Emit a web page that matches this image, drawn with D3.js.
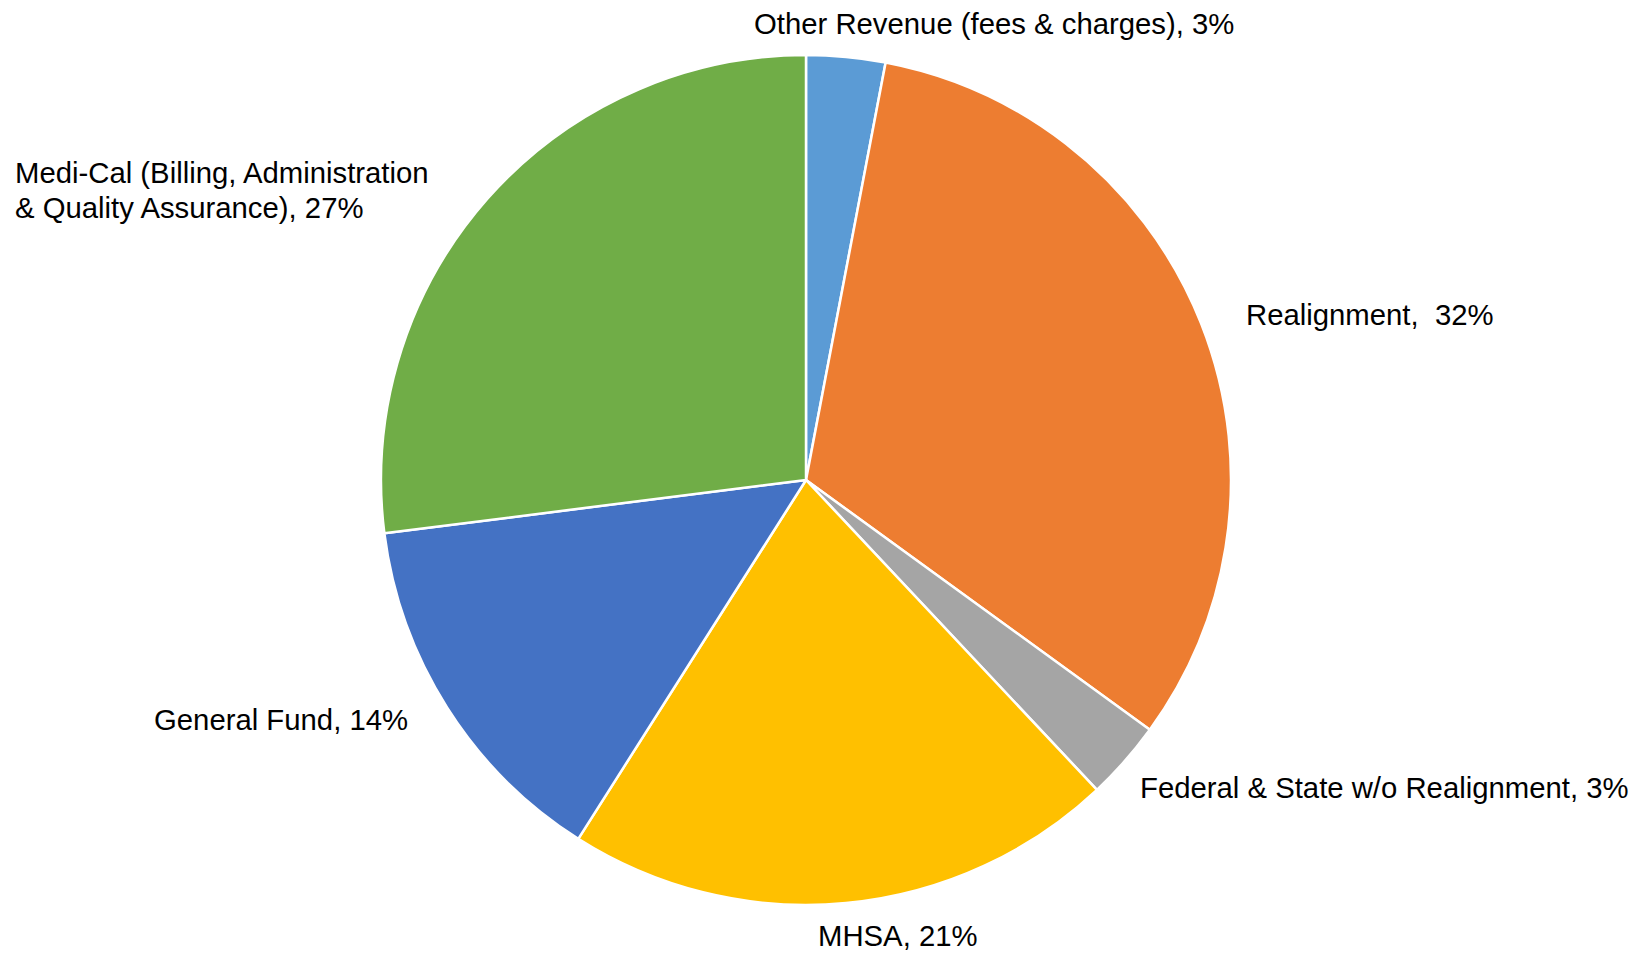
<!DOCTYPE html>
<html>
<head>
<meta charset="utf-8">
<script src="https://cdn.jsdelivr.net/npm/d3@7"></script>
<style>
  html, body { margin: 0; padding: 0; background: #fff; }
  svg text { font-family: "Liberation Sans", Arial, sans-serif; white-space: pre; }
</style>
</head>
<body>
<div id="chart"></div>
<script>
// revenue shares, clockwise from 12 o'clock
const categories = [
  "Other Revenue (fees & charges)",
  "Realignment",
  "Federal & State w/o Realignment",
  "MHSA",
  "General Fund",
  "Medi-Cal (Billing, Administration & Quality Assurance)"
];
const shares = [3, 32, 3, 21, 14, 27];
const labelTexts = [
  ["Other Revenue (fees & charges), 3%"],
  ["Realignment,  32%"],
  ["Federal & State w/o Realignment, 3%"],
  ["MHSA, 21%"],
  ["General Fund, 14%"],
  ["Medi-Cal (Billing, Administration", "& Quality Assurance), 27%"]
];
const colors = ["#5B9BD5", "#ED7D31", "#A5A5A5", "#FFC000", "#4472C4", "#70AD47"];

function drawPie() {
  const width = 1647;
  const height = 953;
  const cx = 806, cy = 480;
  const radius = 425;

  const svg = d3.select("#chart")
    .append("svg")
    .attr("width", width)
    .attr("height", height);

  const data = categories.map((c, i) => ({ name: c, value: shares[i], lines: labelTexts[i], color: colors[i] }));

  const pie = d3.pie().sort(null).value(d => d.value);
  const arc = d3.arc().innerRadius(0).outerRadius(radius);

  const g = svg.append("g").attr("transform", `translate(${cx},${cy})`);

  g.selectAll("path")
    .data(pie(data))
    .join("path")
    .attr("d", arc)
    .attr("fill", d => d.data.color)
    .attr("stroke", "#fff")
    .attr("stroke-width", 2.5)
    .attr("stroke-linejoin", "round");

  // label anchors (left edge, first baseline), relative to the pie centre
  const labelPos = [
    [-52, -446],
    [440, -155],
    [334, 318],
    [12, 466],
    [-652, 250],
    [-791, -297]
  ];

  const lineHeight = 35;
  const labels = svg.append("g")
    .selectAll("text")
    .data(data)
    .join("text")
    .attr("x", (d, i) => cx + labelPos[i][0])
    .attr("y", (d, i) => cy + labelPos[i][1])
    .attr("fill", "#000")
    .style("font-size", "29.3px");

  labels.selectAll("tspan")
    .data(d => d.lines.map(t => ({ t })))
    .join("tspan")
    .attr("x", function() { return this.parentNode.getAttribute("x"); })
    .attr("dy", (d, i) => i === 0 ? 0 : lineHeight)
    .text(d => d.t);
}

drawPie();
</script>
</body>
</html>
